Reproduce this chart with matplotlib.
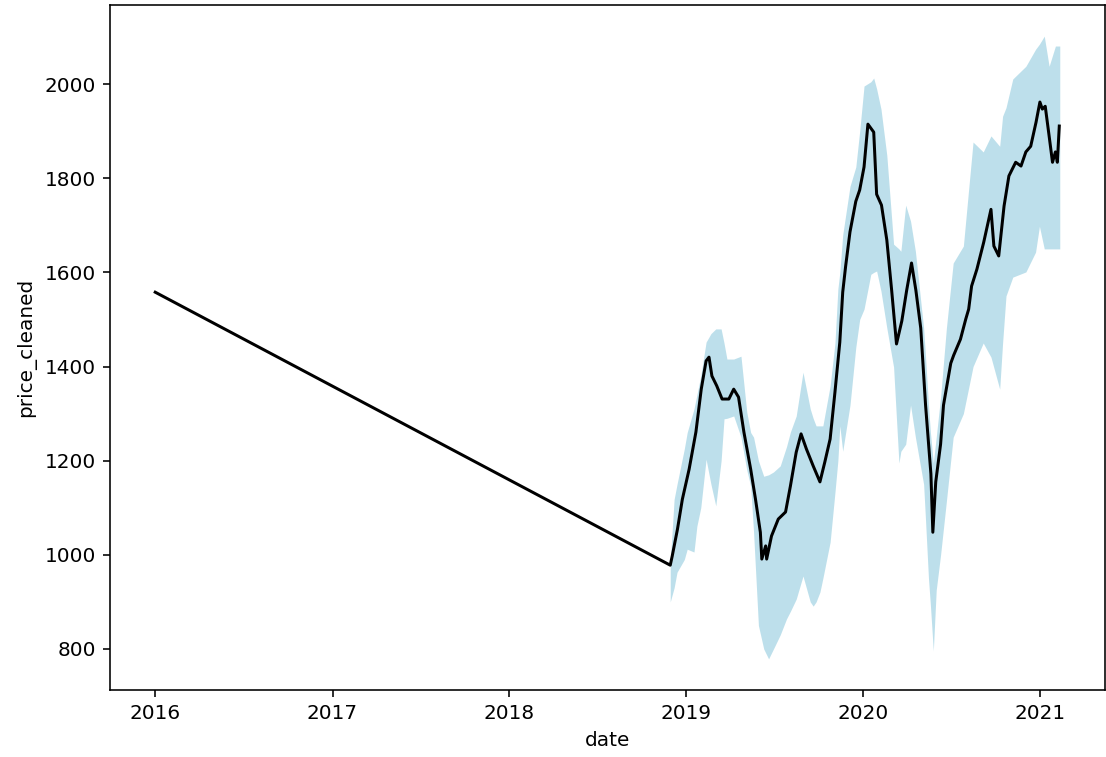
import matplotlib
matplotlib.use("Agg")
import matplotlib.pyplot as plt
import pandas as pd

# Smoothed price series (black line)
price_dates = [
    "2016-01-01", "2018-11-29", "2018-12-03", "2018-12-14", "2018-12-24",
    "2019-01-07", "2019-01-21", "2019-02-01", "2019-02-11", "2019-02-17",
    "2019-02-23", "2019-03-05", "2019-03-16", "2019-03-30", "2019-04-09",
    "2019-04-19", "2019-04-30", "2019-05-14", "2019-05-24", "2019-06-03",
    "2019-06-06", "2019-06-14", "2019-06-16", "2019-06-26", "2019-07-10",
    "2019-07-25", "2019-08-04", "2019-08-16", "2019-08-26", "2019-09-06",
    "2019-09-20", "2019-10-04", "2019-10-14", "2019-10-25", "2019-11-04",
    "2019-11-14", "2019-11-20", "2019-11-26", "2019-12-05", "2019-12-17",
    "2019-12-25", "2020-01-03", "2020-01-11", "2020-01-23", "2020-01-29",
    "2020-02-08", "2020-02-19", "2020-02-29", "2020-03-10", "2020-03-21",
    "2020-03-31", "2020-04-10", "2020-04-19", "2020-04-29", "2020-05-09",
    "2020-05-20", "2020-05-24", "2020-05-30", "2020-06-09", "2020-06-15",
    "2020-06-30", "2020-07-06", "2020-07-20", "2020-07-31", "2020-08-06",
    "2020-08-12", "2020-08-23", "2020-09-06", "2020-09-21", "2020-09-27",
    "2020-10-07", "2020-10-18", "2020-10-28", "2020-11-11", "2020-11-22",
    "2020-12-02", "2020-12-12", "2020-12-23", "2020-12-31", "2021-01-05",
    "2021-01-11", "2021-01-19", "2021-01-26", "2021-02-01", "2021-02-05",
    "2021-02-09",
]
price_values = [
    1558, 978, 997, 1055, 1118,
    1182, 1261, 1352, 1412, 1420,
    1380, 1359, 1331, 1331, 1352,
    1335, 1261, 1182, 1118, 1048,
    991, 1019, 991, 1040, 1076,
    1091, 1146, 1218, 1257, 1225,
    1189, 1155, 1197, 1246, 1346,
    1452, 1558, 1613, 1686, 1751,
    1775, 1824, 1915, 1898, 1766,
    1743, 1669, 1562, 1448, 1497,
    1562, 1620, 1562, 1482, 1318,
    1172, 1048, 1155, 1235, 1318,
    1407, 1424, 1458, 1501, 1522,
    1571, 1607, 1664, 1734, 1656,
    1635, 1741, 1805, 1834, 1826,
    1856, 1868, 1919, 1962, 1947,
    1953, 1890, 1834, 1856, 1834,
    1911,
]

# Range of the raw prices (light blue band)
band_dates = [
    "2018-11-29", "2018-12-07", "2018-12-13", "2018-12-28", "2019-01-03",
    "2019-01-17", "2019-01-23", "2019-01-31", "2019-02-11", "2019-02-21",
    "2019-03-03", "2019-03-14", "2019-03-20", "2019-03-26", "2019-04-09",
    "2019-04-24", "2019-05-06", "2019-05-14", "2019-05-20", "2019-05-30",
    "2019-06-10", "2019-06-20", "2019-06-30", "2019-07-14", "2019-07-27",
    "2019-08-04", "2019-08-16", "2019-08-30", "2019-09-14", "2019-09-20",
    "2019-09-26", "2019-10-04", "2019-10-10", "2019-10-25", "2019-11-04",
    "2019-11-10", "2019-11-14", "2019-11-20", "2019-12-05", "2019-12-17",
    "2019-12-25", "2020-01-03", "2020-01-17", "2020-01-23", "2020-01-29",
    "2020-02-07", "2020-02-19", "2020-03-04", "2020-03-15", "2020-03-19",
    "2020-03-29", "2020-04-08", "2020-04-18", "2020-05-05", "2020-05-09",
    "2020-05-15", "2020-05-19", "2020-05-25", "2020-05-31", "2020-06-09",
    "2020-06-21", "2020-07-05", "2020-07-26", "2020-08-15", "2020-09-05",
    "2020-09-21", "2020-10-09", "2020-10-15", "2020-10-22", "2020-11-05",
    "2020-12-02", "2020-12-22", "2020-12-30", "2021-01-09", "2021-01-19",
    "2021-02-01", "2021-02-10",
]
band_low = [
    900, 930, 963, 990, 1012,
    1006, 1061, 1100, 1203, 1150,
    1104, 1200, 1289, 1290, 1295,
    1250, 1180, 1146, 1048, 850,
    800, 779, 800, 830, 864,
    880, 906, 955, 900, 891,
    900, 921, 950, 1027, 1133,
    1200, 1274, 1220, 1318, 1441,
    1500, 1522, 1596, 1600, 1603,
    1560, 1482, 1399, 1195, 1220,
    1235, 1318, 1250, 1150, 1072,
    950, 893, 796, 925, 1000,
    1114, 1250, 1300, 1400, 1450,
    1420, 1352, 1450, 1550, 1590,
    1601, 1643, 1698, 1650, 1650,
    1650, 1650,
]
band_high = [
    985, 1118, 1150, 1225, 1260,
    1310, 1340, 1380, 1452, 1470,
    1480, 1480, 1450, 1416, 1416,
    1422, 1303, 1260, 1250, 1200,
    1167, 1170, 1176, 1189, 1230,
    1261, 1295, 1388, 1310, 1290,
    1274, 1274, 1274, 1359, 1450,
    1565, 1600, 1680, 1783, 1824,
    1900, 1996, 2005, 2013, 1990,
    1947, 1849, 1660, 1650, 1645,
    1743, 1709, 1645, 1482, 1420,
    1318, 1260, 1195, 1250, 1335,
    1482, 1620, 1656, 1877, 1856,
    1890, 1868, 1932, 1950, 2011,
    2038, 2074, 2085, 2102, 2038,
    2081, 2081,
]

price = pd.Series(price_values, index=pd.to_datetime(price_dates))
band = pd.DataFrame({"low": band_low, "high": band_high},
                    index=pd.to_datetime(band_dates))

fig = plt.figure(figsize=(1106 / 144, 757 / 144), dpi=144)
ax = fig.add_axes([110 / 1106, 67 / 757, 995 / 1106, 685 / 757])

ax.fill_between(band.index, band["low"], band["high"],
                color="lightblue", alpha=0.8, linewidth=0)
ax.plot(price.index, price.values, color="black", linewidth=1.5)

ax.set_xlabel("date")
ax.set_ylabel("price_cleaned")
ax.set_yticks([800, 1000, 1200, 1400, 1600, 1800, 2000])

fig.savefig("out.png", dpi=144)
